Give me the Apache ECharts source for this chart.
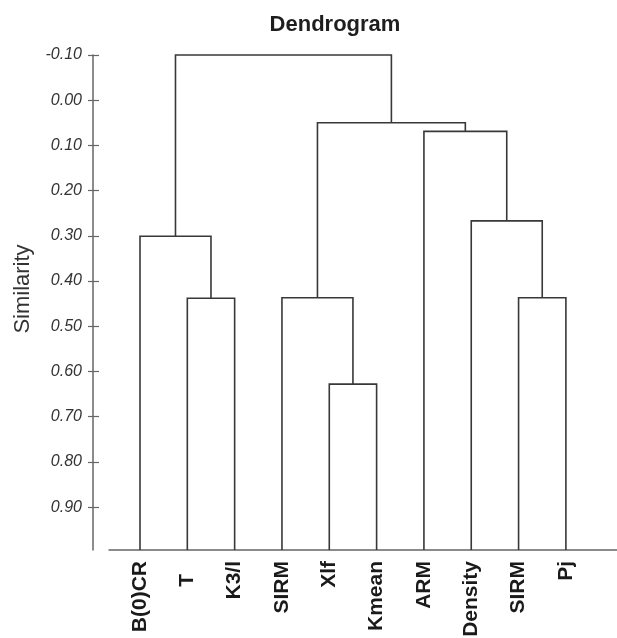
<!DOCTYPE html>
<html>
<head>
<meta charset="utf-8">
<script src="https://cdn.jsdelivr.net/npm/echarts@6/dist/echarts.min.js"></script>
<style>html,body{margin:0;padding:0;background:#fff}#chart{width:617px;height:638px}</style>
</head>
<body>
<div id="chart"></div>
<script>
// Leaf labels in display order
const leaves = ['B(0)CR', 'T', 'K3/l', 'SIRM', 'Xlf', 'Kmean', 'ARM', 'Density', 'SIRM', 'Pj'];
// Linkage: merge k creates cluster id (leaves.length + k) from mergeLeft[k] and mergeRight[k]
const mergeLeft  = [1, 0, 4, 3, 8, 7, 6, 13, 11];
const mergeRight = [2, 10, 5, 12, 9, 14, 15, 16, 17];
const mergeHeight = [0.438, 0.301, 0.628, 0.437, 0.437, 0.267, 0.069, 0.050, -0.100];
// Similarity tick values
const yTicks = [-0.1, 0.0, 0.1, 0.2, 0.3, 0.4, 0.5, 0.6, 0.7, 0.8, 0.9];
const yMin = -0.1, yMax = 0.995;

// Build node positions from the linkage
const nodeX = leaves.map((_, i) => i);
const nodeH = leaves.map(() => yMax);
const links = [];
mergeLeft.forEach((l, k) => {
  const r = mergeRight[k];
  const h = mergeHeight[k];
  links.push([nodeX[l], nodeH[l], nodeX[r], nodeH[r], h]);
  nodeX.push((nodeX[l] + nodeX[r]) / 2);
  nodeH.push(h);
});

const chart = echarts.init(document.getElementById('chart'));
const FONT = '"Liberation Sans", Arial, sans-serif';
chart.setOption({
  animation: false,
  backgroundColor: '#fff',
  grid: { left: 109, right: 0, top: 55, bottom: 88, containLabel: false, outerBoundsMode: 'none' },
  graphic: [
    { type: 'text', x: 335, y: 25, style: { text: 'Dendrogram', font: 'bold 22px ' + FONT, fill: '#1e1e1e', textAlign: 'center', textVerticalAlign: 'middle' } },
    { type: 'text', x: 23, y: 289, rotation: Math.PI / 2, style: { text: 'Similarity', font: '22px ' + FONT, fill: '#333', textAlign: 'center', textVerticalAlign: 'middle' } }
  ],
  xAxis: {
    type: 'value', min: -0.655, max: 10.08,
    axisLine: { show: true, onZero: false, lineStyle: { color: '#666', width: 1.5 } },
    axisTick: { show: false },
    splitLine: { show: false },
    axisLabel: {
      customValues: leaves.map((_, i) => i),
      formatter: v => {
        const name = leaves[Math.round(v)];
        return name.length === 1 ? '{pad|' + name + '}' : name;
      },
      rich: { pad: { padding: [0, 13, 0, 0], fontFamily: FONT, fontWeight: 'bold', fontSize: 21, color: '#1a1a1a' } },
      rotate: 90, margin: 11,
      fontFamily: FONT, fontWeight: 'bold', fontSize: 21, color: '#1a1a1a'
    }
  },
  yAxis: [
    {
      type: 'value', inverse: true, min: yMin, max: yMax, offset: 16, position: 'left',
      axisLine: { show: true, onZero: false, lineStyle: { color: '#666', width: 1.5 } },
      axisTick: { show: true, length: 5, customValues: yTicks, lineStyle: { color: '#666', width: 1.2 } },
      splitLine: { show: false },
      axisLabel: {
        customValues: yTicks,
        formatter: v => v.toFixed(2),
        margin: 11, fontFamily: FONT, fontStyle: 'italic', fontSize: 16, color: '#333'
      }
    },
    {
      type: 'value', inverse: true, min: yMin, max: yMax, offset: 16, position: 'left',
      axisLine: { show: false, onZero: false },
      axisTick: { show: true, inside: true, length: 6, customValues: yTicks, lineStyle: { color: '#666', width: 1.2 } },
      splitLine: { show: false },
      axisLabel: { show: false }
    }
  ],
  series: [{
    type: 'custom',
    coordinateSystem: 'cartesian2d',
    encode: { x: [0, 2], y: [1, 3, 4] },
    data: links,
    renderItem: function (params, api) {
      const xl = api.value(0), hl = api.value(1), xr = api.value(2), hr = api.value(3), h = api.value(4);
      const pts = [api.coord([xl, hl]), api.coord([xl, h]), api.coord([xr, h]), api.coord([xr, hr])];
      return { type: 'polyline', shape: { points: pts }, style: { stroke: '#383838', lineWidth: 1.6, fill: null } };
    }
  }]
});
</script>
</body>
</html>
